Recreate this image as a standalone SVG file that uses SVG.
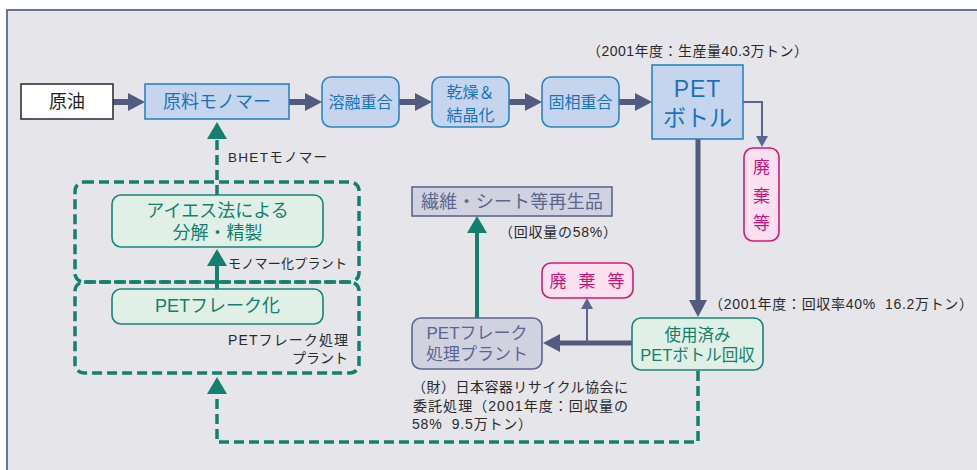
<svg xmlns="http://www.w3.org/2000/svg" width="977" height="470" viewBox="0 0 977 470">
<defs>
<style>
text{font-family:"Liberation Sans","Noto Sans CJK JP",sans-serif;dominant-baseline:central}
.bg{fill:#e6e5ea;stroke:#6b7599;stroke-width:2}
.blue{fill:#c6d5ee;stroke:#2a84c6;stroke-width:1.6}
.blueT{fill:#1a73b9;text-anchor:middle}
.green{fill:#e1f0e7;stroke:#16857a;stroke-width:1.6}
.greenT{fill:#12806e;text-anchor:middle}
.gray{fill:#d1d2e0;stroke:#5b6690;stroke-width:1.6}
.grayT{fill:#5b6690;text-anchor:middle}
.pink{fill:#fbe1ef;stroke:#d2187a;stroke-width:1.6}
.pinkT{fill:#cc1477;text-anchor:middle;font-size:17px}
.lbl{fill:#2a2a2a;font-size:14px}
.thick{fill:none;stroke:#535c80;stroke-width:6}
.thin{fill:none;stroke:#5b6690;stroke-width:2}
.teal{fill:none;stroke:#13806f;stroke-width:4}
.dash{fill:none;stroke:#13806f;stroke-width:3.5;stroke-dasharray:10 5}
</style>
<marker id="ahD" markerUnits="userSpaceOnUse" markerWidth="17" markerHeight="18" refX="0" refY="9" orient="auto"><path d="M0,0 L17,9 L0,18 z" fill="#535c80"/></marker>
<marker id="ahS" markerUnits="userSpaceOnUse" markerWidth="11" markerHeight="12" refX="0" refY="6" orient="auto"><path d="M0,0 L11,6 L0,12 z" fill="#5b6690"/></marker>
<marker id="ahT" markerUnits="userSpaceOnUse" markerWidth="17" markerHeight="20" refX="0" refY="10" orient="auto"><path d="M0,0 L17,10 L0,20 z" fill="#13806f"/></marker>
</defs>
<rect class="bg" x="7" y="10" width="980" height="470"/>

<g id="connectors">
<line class="thick" x1="113" y1="102" x2="128" y2="102" marker-end="url(#ahD)"/>
<line class="thick" x1="289" y1="102" x2="305" y2="102" marker-end="url(#ahD)"/>
<line class="thick" x1="399" y1="102" x2="415" y2="102" marker-end="url(#ahD)"/>
<line class="thick" x1="509" y1="102" x2="525" y2="102" marker-end="url(#ahD)"/>
<line class="thick" x1="619" y1="102" x2="635" y2="102" marker-end="url(#ahD)"/>
<polyline class="thin" points="743,102 762,102 762,136" marker-end="url(#ahS)"/>
<line class="thick" style="stroke-width:5" x1="698" y1="139" x2="698" y2="300" marker-end="url(#ahD)"/>
<line class="thick" style="stroke-width:5" x1="632" y1="343" x2="560" y2="343" marker-end="url(#ahD)"/>
<line class="thin" x1="587" y1="343" x2="587" y2="309" marker-end="url(#ahS)"/>
<line class="teal" x1="477" y1="318" x2="477" y2="233" marker-end="url(#ahT)"/>
<polyline class="dash" points="698,371 698,442 217,442 217,394" marker-end="url(#ahT)"/>
<line class="teal" x1="217" y1="289" x2="217" y2="266" marker-end="url(#ahT)"/>
<line class="dash" x1="217" y1="195" x2="217" y2="139" marker-end="url(#ahT)"/>
</g>

<g id="plant-monomer">
<rect class="dash" x="75" y="182" width="284" height="100" rx="9"/>
<text class="lbl" x="228" y="263" style="font-size:13px" textLength="119">モノマー化プラント</text>
</g>
<g id="plant-flake">
<rect class="dash" x="75" y="282" width="284" height="91" rx="9"/>
<text class="lbl" x="348" y="340" text-anchor="end" textLength="120">PETフレーク処理</text>
<text class="lbl" x="348" y="358" text-anchor="end">プラント</text>
</g>

<g id="crude">
<rect x="21" y="84" width="92" height="35" fill="#ffffff" stroke="#333333" stroke-width="1.6"/>
<text x="67" y="102" text-anchor="middle" fill="#222" font-size="18">原油</text>
</g>
<g id="monomer">
<rect class="blue" x="145" y="84" width="144" height="35"/>
<text class="blueT" x="217" y="102" font-size="18">原料モノマー</text>
</g>
<g id="melt">
<rect class="blue" x="322" y="77" width="77" height="50" rx="9"/>
<text class="blueT" x="360.5" y="102" font-size="16">溶融重合</text>
</g>
<g id="dry">
<rect class="blue" x="432" y="77" width="77" height="50" rx="9"/>
<text class="blueT" x="470.5" y="92" font-size="16">乾燥＆</text>
<text class="blueT" x="470.5" y="115" font-size="16">結晶化</text>
</g>
<g id="solid">
<rect class="blue" x="542" y="77" width="77" height="50" rx="9"/>
<text class="blueT" x="580.5" y="102" font-size="16">固相重合</text>
</g>
<g id="bottle">
<rect class="blue" x="652" y="65" width="91" height="74"/>
<text class="blueT" x="697.5" y="89" font-size="23" letter-spacing="1">PET</text>
<text class="blueT" x="697.5" y="118" font-size="23">ボトル</text>
<text class="lbl" x="587" y="51" textLength="221">（2001年度：生産量40.3万トン）</text>
</g>
<g id="waste1">
<rect class="pink" x="744" y="148" width="35" height="93" rx="9"/>
<text class="pinkT" x="761.5" y="167">廃</text>
<text class="pinkT" x="761.5" y="196">棄</text>
<text class="pinkT" x="761.5" y="223">等</text>
</g>
<g id="collect">
<rect class="green" x="632" y="318" width="131" height="52" rx="9"/>
<text class="greenT" x="697.5" y="335" font-size="16.5">使用済み</text>
<text class="greenT" x="697.5" y="355" font-size="16.5">PETボトル回収</text>
<text class="lbl" x="709" y="304" textLength="264">（2001年度：回収率40%&#160; 16.2万トン）</text>
</g>
<g id="waste2">
<rect class="pink" x="542" y="263" width="91" height="35" rx="9"/>
<text class="pinkT" x="558" y="281">廃</text>
<text class="pinkT" x="587" y="281">棄</text>
<text class="pinkT" x="616" y="281">等</text>
</g>
<g id="flakeplant">
<rect class="gray" x="412" y="318" width="130" height="51" rx="9"/>
<text class="grayT" x="477" y="333" font-size="17">PETフレーク</text>
<text class="grayT" x="477" y="354" font-size="17">処理プラント</text>
<text class="lbl" x="412" y="387" textLength="216">（財）日本容器リサイクル協会に</text>
<text class="lbl" x="413" y="406" textLength="215">委託処理（2001年度：回収量の</text>
<text class="lbl" x="412" y="424" textLength="120">58%&#160; 9.5万トン）</text>
</g>
<g id="recycled">
<rect class="gray" x="412" y="187" width="200" height="29"/>
<text class="grayT" x="512" y="201.5" font-size="18" textLength="182">繊維・シート等再生品</text>
<text class="lbl" x="499" y="232" textLength="118">（回収量の58%）</text>
</g>
<g id="ies">
<rect class="green" x="112" y="195" width="211" height="52" rx="9"/>
<text class="greenT" x="217.5" y="211" font-size="18">アイエス法による</text>
<text class="greenT" x="217.5" y="233" font-size="18">分解・精製</text>
<text class="lbl" x="228" y="157" style="font-size:13.5px" textLength="99">BHETモノマー</text>
</g>
<g id="flake">
<rect class="green" x="112" y="289" width="211" height="35" rx="9"/>
<text class="greenT" x="217.5" y="306" font-size="18">PETフレーク化</text>
</g>
</svg>
